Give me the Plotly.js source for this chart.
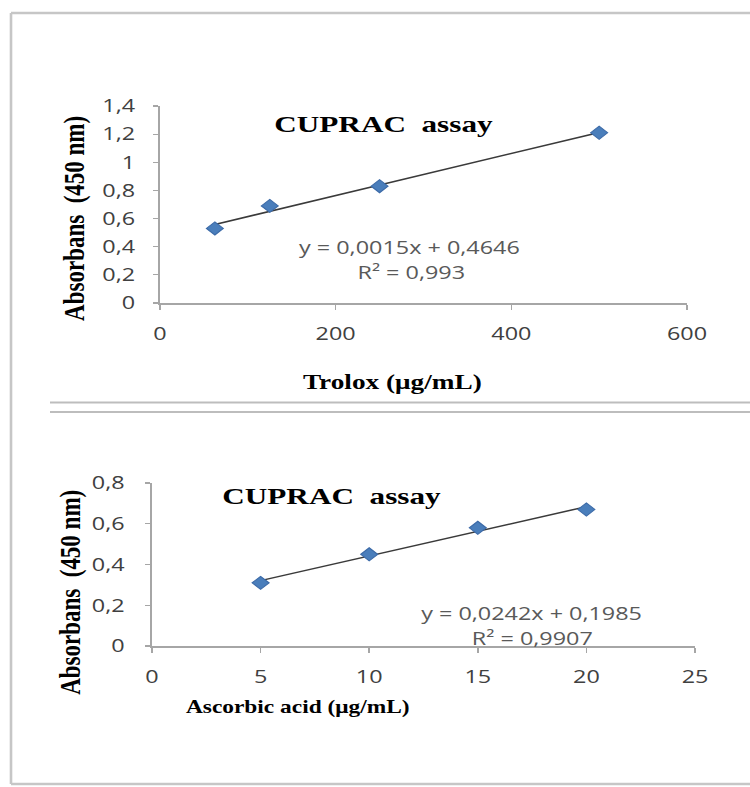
<!DOCTYPE html>
<html>
<head>
<meta charset="utf-8">
<script src="https://cdn.plot.ly/plotly-3.0.1.min.js"></script>
<style>
  html, body { margin: 0; padding: 0; background: #ffffff; overflow: hidden; }
  #wrap { width: 750px; height: 787px; overflow: hidden; }
  #chart { width: 577px; height: 787px; transform: scaleX(1.2998); transform-origin: 0 0; }
</style>
</head>
<body>
<div id="wrap"><div id="chart"></div></div>
<script>
// ---- data ----
const troloxConc = [62.5, 125, 250, 500];          // µg/mL
const troloxAbs  = [0.53, 0.69, 0.83, 1.21];       // absorbance 450 nm
const ascorbicConc = [5, 10, 15, 20];              // µg/mL
const ascorbicAbs  = [0.31, 0.45, 0.58, 0.67];     // absorbance 450 nm

const chartTitle = "CUPRAC\u00A0\u00A0assay";
const yTitle = "Absorbans\u00A0\u00A0(450 nm)";
const xTitleTop = "Trolox (\u03BCg/mL)";
const xTitleBottom = "Ascorbic acid (\u03BCg/mL)";
const eqTop = ["y = 0,0015x + 0,4646", "R\u00B2 = 0,993"];
const eqBottom = ["y = 0,0242x + 0,1985", "R\u00B2 = 0,9907"];

// least-squares linear trendline through the data (as the spreadsheet does)
function fit(xs, ys) {
  const n = xs.length;
  const mx = xs.reduce((a, b) => a + b, 0) / n;
  const my = ys.reduce((a, b) => a + b, 0) / n;
  let sxy = 0, sxx = 0;
  for (let i = 0; i < n; i++) { sxy += (xs[i] - mx) * (ys[i] - my); sxx += (xs[i] - mx) ** 2; }
  const m = sxy / sxx, b = my - m * mx;
  const x0 = Math.min(...xs), x1 = Math.max(...xs);
  return { x: [x0, x1], y: [m * x0 + b, m * x1 + b] };
}
const fitTop = fit(troloxConc, troloxAbs);
const fitBottom = fit(ascorbicConc, ascorbicAbs);

// ---- helpers: real picture pixels -> paper coords ----
const W = 750, H = 787;
const px = x => x / W;
const py = y => 1 - y / H;

const markerStyle = { symbol: "diamond", size: 10, color: "#4a7ebb", line: { width: 1, color: "#3d6ba8" } };
const lineStyle = { color: "#3a3a3a", width: 1.5 };

const traces = [
  { x: fitTop.x, y: fitTop.y, mode: "lines", line: lineStyle, xaxis: "x", yaxis: "y", hoverinfo: "skip", showlegend: false },
  { x: troloxConc, y: troloxAbs, mode: "markers", marker: markerStyle, xaxis: "x", yaxis: "y", showlegend: false },
  { x: fitBottom.x, y: fitBottom.y, mode: "lines", line: lineStyle, xaxis: "x2", yaxis: "y2", hoverinfo: "skip", showlegend: false },
  { x: ascorbicConc, y: ascorbicAbs, mode: "markers", marker: markerStyle, xaxis: "x2", yaxis: "y2", showlegend: false }
];

const tickFont = { family: "Open Sans, sans-serif", size: 18, color: "#404040" };
const axisCommon = {
  showline: true, linecolor: "#a6a6a6", linewidth: 1.5,
  ticks: "outside", tickcolor: "#a6a6a6", tickwidth: 1.2,
  showgrid: false, zeroline: false, tickfont: tickFont, fixedrange: true
};

const titleFont = { family: "Liberation Serif, Times New Roman, serif", size: 24, color: "#000000", weight: "bold" };
const eqFont = { family: "Open Sans, sans-serif", size: 18, color: "#595959" };

function ann(text, x, y, font, extra) {
  return Object.assign({ text: text, x: px(x), y: py(y), xref: "paper", yref: "paper",
    xanchor: "center", yanchor: "middle", showarrow: false, font: font }, extra || {});
}

const layout = {
  width: 577, height: 787,
  margin: { l: 0, r: 0, t: 0, b: 0 },
  paper_bgcolor: "#ffffff", plot_bgcolor: "rgba(0,0,0,0)",
  separators: ", ",
  showlegend: false,
  xaxis: Object.assign({}, axisCommon, { domain: [px(160), px(687)], range: [0, 600], tick0: 0, dtick: 200, anchor: "y", ticklen: 5, ticklabelstandoff: 9 }),
  yaxis: Object.assign({}, axisCommon, { domain: [py(303), py(106)], range: [0, 1.4], tick0: 0, dtick: 0.2, anchor: "x", ticklen: 4, ticklabelstandoff: 10 }),
  xaxis2: Object.assign({}, axisCommon, { domain: [px(152), px(695)], range: [0, 25], tick0: 0, dtick: 5, anchor: "y2", ticklen: 5, ticklabelstandoff: 9 }),
  yaxis2: Object.assign({}, axisCommon, { domain: [py(646), py(483)], range: [0, 0.8], tick0: 0, dtick: 0.2, anchor: "x2", ticklen: 4, ticklabelstandoff: 12 }),
  annotations: [
    ann(chartTitle, 384, 124, titleFont),
    ann(eqTop[0], 409, 247, eqFont),
    ann(eqTop[1], 411, 272, eqFont),
    ann(xTitleTop, 392, 382, Object.assign({}, titleFont, { size: 21 })),
    ann(yTitle, 74, 218, Object.assign({}, titleFont, { size: 23 }), { textangle: -90 }),
    ann(chartTitle, 331, 496, titleFont),
    ann(eqBottom[0], 532, 613, eqFont),
    ann(eqBottom[1], 532, 638, eqFont),
    ann(xTitleBottom, 298, 707, Object.assign({}, titleFont, { size: 18 })),
    ann(yTitle, 70, 592, Object.assign({}, titleFont, { size: 23 }), { textangle: -90 })
  ],
  shapes: [
    // outer frame
    { type: "line", xref: "paper", yref: "paper", x0: px(11), x1: 1, y0: py(13), y1: py(13), line: { color: "#c6c6c6", width: 2.5 } },
    { type: "line", xref: "paper", yref: "paper", x0: px(11), x1: px(11), y0: py(13), y1: py(784), line: { color: "#c6c6c6", width: 2 } },
    { type: "line", xref: "paper", yref: "paper", x0: px(11), x1: 1, y0: py(784), y1: py(784), line: { color: "#c6c6c6", width: 2.5 } },
    // double separator between the two panels
    { type: "line", xref: "paper", yref: "paper", x0: px(50), x1: 1, y0: py(402.5), y1: py(402.5), line: { color: "#bdbdbd", width: 2 } },
    { type: "line", xref: "paper", yref: "paper", x0: px(50), x1: 1, y0: py(412), y1: py(412), line: { color: "#bdbdbd", width: 2 } }
  ]
};

Plotly.newPlot("chart", traces, layout, { staticPlot: true, displayModeBar: false });
</script>
</body>
</html>
